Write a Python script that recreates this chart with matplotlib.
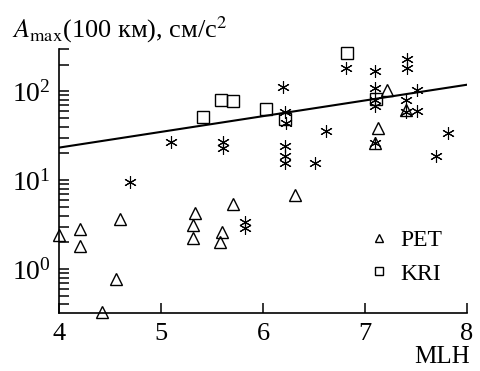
import matplotlib
matplotlib.use("Agg")
import matplotlib.pyplot as plt
from matplotlib.ticker import LogLocator, NullFormatter
import numpy as np

plt.rcParams['font.family'] = ['Liberation Serif', 'DejaVu Serif']
plt.rcParams['mathtext.fontset'] = 'stix'

# PET stations (triangles)
pet_mlh = [4.0, 4.21, 4.21, 4.60, 4.56, 4.42, 5.33, 5.31, 5.31, 5.60, 5.58,
           5.71, 6.31, 7.13, 7.10, 7.22, 7.40]
pet_amax = [2.4, 2.8, 1.8, 3.7, 0.77, 0.33, 4.3, 3.1, 2.25, 2.6, 2.03,
            5.4, 6.9, 39, 26, 104, 62]

# KRI stations (squares)
kri_mlh = [5.41, 5.59, 5.71, 6.03, 6.22, 6.82, 7.11]
kri_amax = [52, 81, 77, 64, 49, 267, 82]

# other events (asterisks)
oth_mlh = [4.70, 5.10, 5.61, 5.61, 5.82, 5.82, 6.20, 6.22, 6.23, 6.22, 6.22,
           6.22, 6.51, 6.62, 6.81, 7.10, 7.10, 7.10, 7.10, 7.10, 7.41, 7.41,
           7.51, 7.40, 7.40, 7.51, 7.81, 7.70]
oth_amax = [9.5, 27, 27, 23, 3.4, 2.9, 112, 58, 44, 24, 18.5, 15.8, 15.8,
            36, 185, 169, 108, 80, 68, 26, 229, 185, 104, 81, 58, 60, 34, 18.5]

# regression line: log10(A) = a + b * (MLH - 4)
fit_a = 1.367
fit_b = 0.177
fit_x = [4.0, 8.0]

fig = plt.figure(figsize=(4.81, 3.71), dpi=100)
ax = fig.add_axes([59 / 481, 1 - 313 / 371, 408 / 481, 264 / 371])

fx = np.array(fit_x)
ax.plot(fx, 10 ** (fit_a + fit_b * (fx - 4)), color='black', lw=1.5, zorder=2)

ax.plot(oth_mlh, oth_amax, ls='none', marker=(6, 2, 0), ms=9, mew=0.8,
        color='black', zorder=3, clip_on=False)
ax.plot(pet_mlh, pet_amax, ls='none', marker='^', ms=8, mfc='none',
        mec='black', mew=1.0, label='PET', zorder=4, clip_on=False)
ax.plot(kri_mlh, kri_amax, ls='none', marker='s', ms=8, mfc='none',
        mec='black', mew=1.0, label='KRI', zorder=4, clip_on=False)

ax.set_yscale('log')
ax.set_xlim(4, 8)
ax.set_ylim(0.32, 300)

ax.spines['top'].set_visible(False)
ax.spines['right'].set_visible(False)
for s in ['left', 'bottom']:
    ax.spines[s].set_linewidth(1.2)

ax.set_xticks([4, 5, 6, 7, 8])
ax.yaxis.set_major_locator(LogLocator(base=10, numticks=10))
ax.yaxis.set_minor_locator(LogLocator(base=10, subs=np.arange(2, 10), numticks=10))
ax.yaxis.set_minor_formatter(NullFormatter())
ax.tick_params(axis='both', which='both', direction='in', length=7, width=1.1)
ax.tick_params(axis='x', labelsize=19, pad=7)
ax.tick_params(axis='y', labelsize=20, pad=6)

leg = ax.legend(frameon=False, fontsize=17, markerscale=0.75, handlelength=0.8,
                handletextpad=0.5, labelspacing=0.5, borderpad=0,
                loc='upper left', bbox_to_anchor=(358 / 481, 1 - 218 / 371),
                bbox_transform=fig.transFigure)

fig.text(12 / 481, 1 - 37 / 371, r'$A_{\mathrm{max}}$(100 км), см/с$^2$',
         fontsize=19, va='baseline', ha='left')
fig.text(470 / 481, 1 - 363 / 371, 'MLH', fontsize=18, va='baseline', ha='right')

fig.savefig('out.png', dpi=100)
